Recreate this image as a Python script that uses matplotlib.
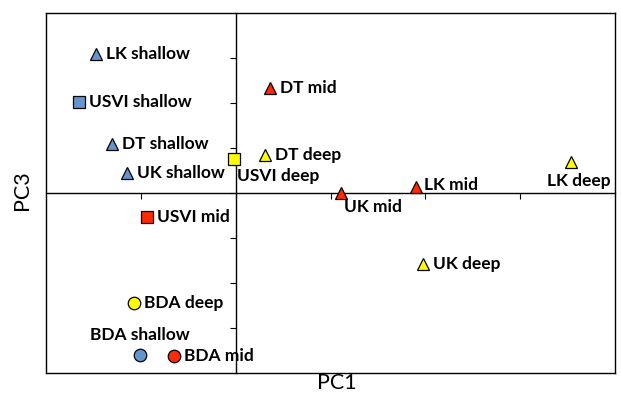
import matplotlib
matplotlib.use("Agg")
from matplotlib import pyplot as plt

# PCA scores (PC1, PC3)
names = ["LK shallow", "USVI shallow", "DT shallow", "UK shallow",
         "USVI deep", "DT deep", "DT mid", "UK mid", "LK mid",
         "LK deep", "UK deep", "USVI mid", "BDA deep", "BDA shallow",
         "BDA mid"]
pc1 = [-1.47, -1.65, -1.30, -1.15, -0.02, 0.31, 0.36, 1.11, 1.90,
       3.54, 1.98, -0.94, -1.07, -1.01, -0.65]
pc3 = [3.09, 2.02, 1.09, 0.45, 0.76, 0.85, 2.33, 0.0, 0.13,
       0.69, -1.58, -0.53, -2.44, -3.60, -3.62]
depth = ["shallow", "shallow", "shallow", "shallow", "deep", "deep",
         "mid", "mid", "mid", "deep", "deep", "mid", "deep", "shallow",
         "mid"]
site = ["LK", "USVI", "DT", "UK", "USVI", "DT", "DT", "UK", "LK",
        "LK", "UK", "USVI", "BDA", "BDA", "BDA"]

colors = {"shallow": "#6495cf", "mid": "#ff2a00", "deep": "#ffff00"}
markers = {"LK": "^", "DT": "^", "UK": "^", "USVI": "s", "BDA": "o"}
sizes = {"^": 9, "s": 8, "o": 9}

# label offsets in pixels (dx, dy) and alignment
offsets = {
    "USVI deep": (3, -17, "left"),
    "UK mid": (3, -14, "left"),
    "LK mid": (8, 2, "left"),
    "LK deep": (7, -19, "center"),
    "BDA shallow": (0, 20, "center"),
}

rect = [46 / 621, 27 / 400, 569 / 621, 360 / 400]
fig = plt.figure(figsize=(6.21, 4.0), dpi=100)

# outer box
frame = fig.add_axes(rect)
frame.set_xticks([])
frame.set_yticks([])
for s in frame.spines.values():
    s.set_linewidth(1.0)

ax = fig.add_axes(rect)
ax.patch.set_alpha(0)

for i in range(len(names)):
    m = markers[site[i]]
    ax.plot(pc1[i], pc3[i], marker=m, markersize=sizes[m],
            markerfacecolor=colors[depth[i]], markeredgecolor="black",
            markeredgewidth=0.9, linestyle="None", zorder=3)
    dx, dy, ha = offsets.get(names[i], (10, 0, "left"))
    ax.annotate(names[i], (pc1[i], pc3[i]), xytext=(dx, dy),
                textcoords="offset pixels", ha=ha, va="center",
                fontsize=12.5, fontweight="bold", family="Lato")

ax.set_xlim(-2, 4)
ax.set_ylim(-4, 4)
ax.set_xticks([-1, 0, 1, 2, 3])
ax.set_yticks([-3, -2, -1, 0, 1, 2, 3])
ax.set_xticklabels([])
ax.set_yticklabels([])

ax.spines["left"].set_position(("data", 0))
ax.spines["bottom"].set_position(("data", 0))
ax.spines["top"].set_visible(False)
ax.spines["right"].set_visible(False)
for s in ax.spines.values():
    s.set_linewidth(1.0)
ax.tick_params(axis="x", direction="out", length=4, width=0.8)
ax.tick_params(axis="y", direction="out", length=4, width=0.8)

fig.text(337 / 621, 1 - 383 / 400, "PC1", ha="center", va="center",
         fontsize=15.5, family="Lato")
fig.text(22 / 621, 1 - 190 / 400, "PC3", ha="center", va="center",
         fontsize=15.5, family="Lato", rotation=90)

fig.savefig("out.png", dpi=100)
